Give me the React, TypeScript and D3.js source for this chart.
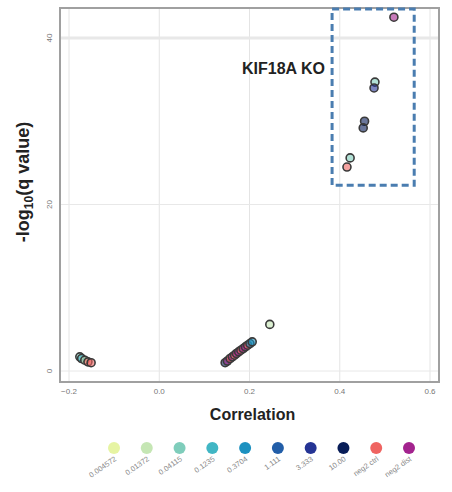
import React from 'react';
import * as d3 from 'd3';

// legend categories and colours
const legendLabels = ['0.004572', '0.01372', '0.04115', '0.1235', '0.3704', '1.111', '3.333', '10.00', 'neg2 ctrl', 'neg2 dist'];
const legendColors = ['#e6f4a3', '#c5e6b4', '#7fcdbb', '#41b6c4', '#1d91c0', '#225ea8', '#253494', '#081d58', '#ef6461', '#a3238e'];

// points: correlation, -log10(q), legend group index
const corr = [0.52, 0.478, 0.476, 0.455, 0.452, 0.423, 0.416, 0.245,
  0.146, 0.151, 0.157, 0.162, 0.167, 0.171, 0.176, 0.181, 0.186, 0.191, 0.196, 0.201, 0.206,
  -0.176, -0.172, -0.165, -0.158, -0.151];
const qval = [42.5, 34.7, 34.0, 30.0, 29.2, 25.6, 24.5, 5.6,
  1.0, 1.2, 1.5, 1.7, 1.9, 2.1, 2.3, 2.5, 2.7, 2.9, 3.1, 3.3, 3.5,
  1.7, 1.5, 1.3, 1.1, 1.0];
const group = [9, 2, 6, 7, 7, 2, 8, 1,
  7, 9, 8, 9, 8, 9, 9, 8, 9, 9, 8, 4, 4,
  2, 3, 1, 8, 8];

const xTicks = [-0.2, 0.0, 0.2, 0.4, 0.6];
const yTicks = [0, 20, 40];

const W = 452;
const H = 492;
const margin = { left: 60, right: 13, top: 8, bottom: 110 };

export default function App() {
  const x = d3.scaleLinear().domain([-0.2, 0.6]).range([69, 430]);
  const y = d3.scaleLinear().domain([0, 40]).range([371, 38]);
  const x0 = margin.left, x1 = W - margin.right, y0 = margin.top, y1 = H - margin.bottom;

  const pts = corr.map((c, i) => ({ c, q: qval[i], g: group[i] }));
  const legX = d3.scalePoint<number>().domain(d3.range(legendLabels.length)).range([114, 409]);

  return (
    <svg width={W} height={H} style={{ position: 'absolute', left: 0, top: 0, background: '#fff' }}
      fontFamily="Liberation Sans, Arial, sans-serif">
      {/* grid */}
      {xTicks.map(t => (
        <line key={'gx' + t} x1={x(t)} x2={x(t)} y1={y0} y2={y1} stroke="#e4e4e4" strokeWidth={1} />
      ))}
      {yTicks.map(t => (
        <line key={'gy' + t} x1={x0} x2={x1} y1={y(t)} y2={y(t)} stroke="#e8e8e8" strokeWidth={t === 40 ? 3 : 1} />
      ))}
      {/* box */}
      <rect x={x0} y={y0} width={x1 - x0} height={y1 - y0} fill="none" stroke="#a0a0a0" strokeWidth={2} />

      {/* dashed highlight */}
      <rect x={x(0.383)} y={y0 + 1} width={x(0.565) - x(0.383)} height={y(22.3) - y0 - 1}
        fill="none" stroke="#4a7db0" strokeWidth={3} strokeDasharray="7,4" />
      <text x={325} y={74} textAnchor="end" fontSize={16} fontWeight="bold" fill="#222">KIF18A KO</text>

      {/* points */}
      {pts.map((p, i) => (
        <circle key={i} cx={x(p.c)} cy={y(p.q)} r={4}
          fill={legendColors[p.g]} fillOpacity={0.6} stroke="#3a3a3a" strokeWidth={1.6} />
      ))}

      {/* x ticks */}
      {xTicks.map(t => (
        <text key={'tx' + t} x={x(t)} y={y1 + 12} textAnchor="middle" fontSize={8} fill="#777">
          {t < 0 ? '\u2212' + d3.format('.1f')(-t) : d3.format('.1f')(t)}
        </text>
      ))}
      {/* y ticks */}
      {yTicks.map(t => (
        <text key={'ty' + t} transform={`translate(${x0 - 8},${y(t)}) rotate(-90)`} textAnchor="middle"
          fontSize={8} fill="#777">{t}</text>
      ))}

      {/* axis titles */}
      <text x={(x0 + x1) / 2 + 3} y={420} textAnchor="middle" fontSize={16} fontWeight="bold" fill="#222">Correlation</text>
      <text transform="translate(29,182) rotate(-90)" textAnchor="middle" fontSize={18}
        fontWeight="bold" fill="#222">
        -log<tspan fontSize={12} dy={4}>10</tspan><tspan dy={-4}>(q value)</tspan>
      </text>

      {/* legend */}
      {legendLabels.map((l, i) => (
        <g key={l} transform={`translate(${legX(i)},448)`}>
          <circle r={6} fill={legendColors[i]} />
          <text transform="translate(3,12) rotate(-35)" textAnchor="end" fontSize={7.5} fill="#888">{l}</text>
        </g>
      ))}
    </svg>
  );
}
